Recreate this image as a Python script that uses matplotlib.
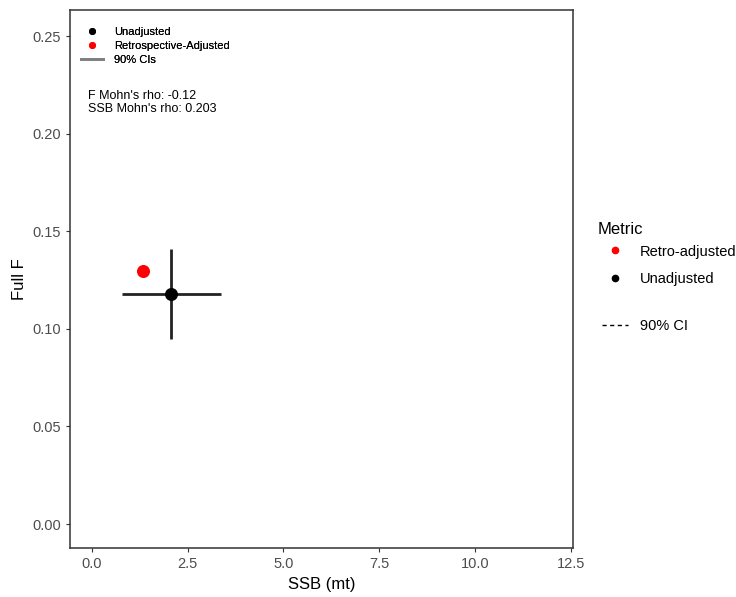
import matplotlib.pyplot as plt
from matplotlib.lines import Line2D

plt.rcParams['font.family'] = ['Liberation Sans', 'DejaVu Sans']

# point estimates (SSB in mt, full F)
unadj_ssb = [2.06]
unadj_f = [0.1178]
retro_ssb = [1.33]
retro_f = [0.1296]

# 90% CIs for the unadjusted estimate
ssb_ci = [0.78, 3.37]
f_ci = [0.0948, 0.1409]

f_rho = -0.12
ssb_rho = 0.203

xticks = [0.0, 2.5, 5.0, 7.5, 10.0, 12.5]
yticks = [0.00, 0.05, 0.10, 0.15, 0.20, 0.25]

fig = plt.figure(figsize=(7.36, 5.97), dpi=100)
ax = fig.add_axes([0.095, 0.082, 0.6835, 0.901])

ax.plot(ssb_ci, [unadj_f[0]] * 2, color='#222222', lw=2, solid_capstyle='butt')
ax.plot([unadj_ssb[0]] * 2, f_ci, color='#222222', lw=2, solid_capstyle='butt')
ax.scatter(unadj_ssb, unadj_f, s=70, color='black', zorder=3)
ax.scatter(retro_ssb, retro_f, s=70, color='red', zorder=3)

ax.set_xlim(-0.57, 12.55)
ax.set_ylim(-0.0123, 0.2633)
ax.set_xticks(xticks)
ax.set_xticklabels([f'{v:.1f}' for v in xticks])
ax.set_yticks(yticks)
ax.set_yticklabels([f'{v:.2f}' for v in yticks])
ax.tick_params(colors='#333333', labelcolor='#4d4d4d', labelsize=10.5, length=3)
for s in ax.spines.values():
    s.set_color('#333333')
    s.set_linewidth(1.1)
ax.set_xlabel('SSB (mt)', fontsize=12, labelpad=4)
ax.set_ylabel('Full F', fontsize=12, labelpad=4)

# inset legend
inset = [
    Line2D([], [], marker='o', ls='none', color='black', markersize=4, label='Unadjusted'),
    Line2D([], [], marker='o', ls='none', color='red', markersize=4, label='Retrospective-Adjusted'),
    Line2D([], [], color='gray', lw=2, label='90% CIs'),
]
leg1 = ax.legend(handles=inset, loc='upper left', bbox_to_anchor=(0.0, 0.99),
                 frameon=False, fontsize=8, handlelength=2.0, handletextpad=1.0,
                 labelspacing=0.38, borderaxespad=0.6)
ax.add_artist(leg1)

ax.text(0.036, 0.841, f"F Mohn's rho: {f_rho}", transform=ax.transAxes,
        fontsize=9, va='center')
ax.text(0.036, 0.817, f"SSB Mohn's rho: {ssb_rho}", transform=ax.transAxes,
        fontsize=9, va='center')

# outer legend
fig.text(0.812, 0.616, 'Metric', fontsize=12, va='center')
outer = [
    Line2D([], [], marker='o', ls='none', color='red', markersize=4.5, label='Retro-adjusted'),
    Line2D([], [], marker='o', ls='none', color='black', markersize=4.5, label='Unadjusted'),
]
fig.legend(handles=outer, loc='center left', bbox_to_anchor=(0.81, 0.556),
           frameon=False, fontsize=10.5, handlelength=1.8, handletextpad=0.8,
           labelspacing=0.9, borderaxespad=0)
ci = [Line2D([], [], color='black', lw=1, ls=(0, (3, 2.5)), label='90% CI')]
fig.legend(handles=ci, loc='center left', bbox_to_anchor=(0.81, 0.454),
           frameon=False, fontsize=10.5, handlelength=1.8, handletextpad=0.8,
           borderaxespad=0)

fig.savefig('out.png', dpi=100)
